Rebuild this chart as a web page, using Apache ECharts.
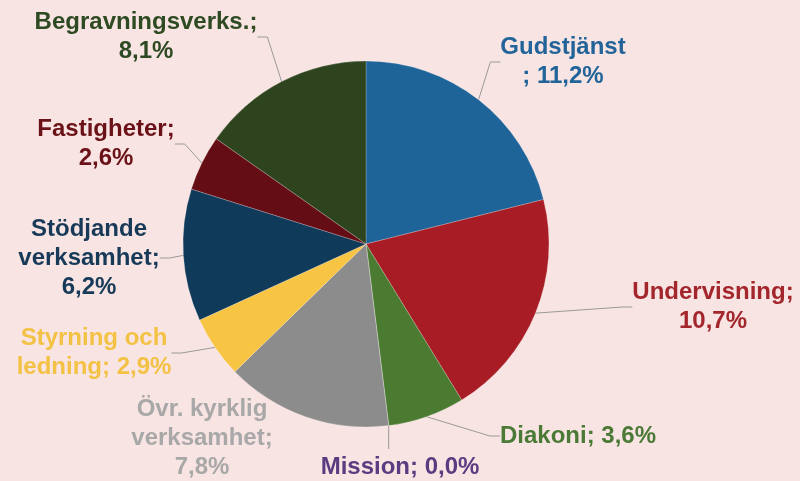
<!DOCTYPE html>
<html>
<head>
<meta charset="utf-8">
<script src="https://cdn.jsdelivr.net/npm/echarts@6/dist/echarts.min.js"></script>
<style>
  html, body { margin: 0; padding: 0; background: #f8e4e2; }
  #chart { width: 800px; height: 481px; }
</style>
</head>
<body>
<div id="chart"></div>
<script>
// andel per verksamhet (%)
const categories = ['Gudstjänst', 'Undervisning', 'Diakoni', 'Mission', 'Övr. kyrklig\nverksamhet',
  'Styrning och\nledning', 'Stödjande\nverksamhet', 'Fastigheter', 'Begravningsverks.'];
const values = [11.2, 10.7, 3.6, 0.0, 7.8, 2.9, 6.2, 2.6, 8.1];
// what goes between name and value in each label
const separators = ['\n; ', ';\n', '; ', '; ', ';\n', '; ', ';\n', ';\n', ';\n'];

const sliceColors = ['#1f6499', '#a81c25', '#4b7a31', '#5b3d80', '#8c8c8c', '#f7c443', '#0f3a5a', '#650d14', '#2e441e'];
const textColors = ['#22649a', '#a3262d', '#4a7a35', '#5a3d80', '#a8a8a8', '#f3c245', '#173a58', '#6a1218', '#2e4a22'];
// label centre positions
const labelPos = [[563, 62], [713, 307], [578, 436], [400, 467], [202, 438], [94, 353], [89, 258], [106, 144], [146, 37]];

const chart = echarts.init(document.getElementById('chart'));

const data = categories.map((c, i) => ({
  name: c,
  value: values[i],
  itemStyle: { color: sliceColors[i] },
  label: { color: textColors[i] },
  labelLine: { show: i !== 4 }
}));

chart.setOption({
  backgroundColor: '#f8e4e2',
  animation: false,
  series: [{
    type: 'pie',
    center: [366, 244],
    radius: 183,
    startAngle: 90,
    clockwise: true,
    data: data,
    itemStyle: { borderColor: 'rgba(255,255,255,0.35)', borderWidth: 0.6 },
    label: {
      show: true,
      fontFamily: 'Liberation Sans, Arial, sans-serif',
      fontWeight: 'bold',
      fontSize: 24,
      lineHeight: 29,
      align: 'center',
      formatter: p => p.name + separators[p.dataIndex] + p.value.toFixed(1).replace('.', ',') + '%'
    },
    labelLine: {
      show: true,
      length: 15,
      length2: 10,
      lineStyle: { color: '#9a9a9a', width: 1 }
    },
    labelLayout: p => {
      const i = p.dataIndex;
      const out = { x: labelPos[i][0], y: labelPos[i][1], align: 'center', verticalAlign: 'middle' };
      if (i === 3 && p.labelLinePoints) {
        const s = p.labelLinePoints[0];
        const yEnd = labelPos[i][1] - 18;
        out.labelLinePoints = [[s[0], s[1]], [s[0], yEnd], [s[0], yEnd]];
      }
      return out;
    }
  }]
});
</script>
</body>
</html>
